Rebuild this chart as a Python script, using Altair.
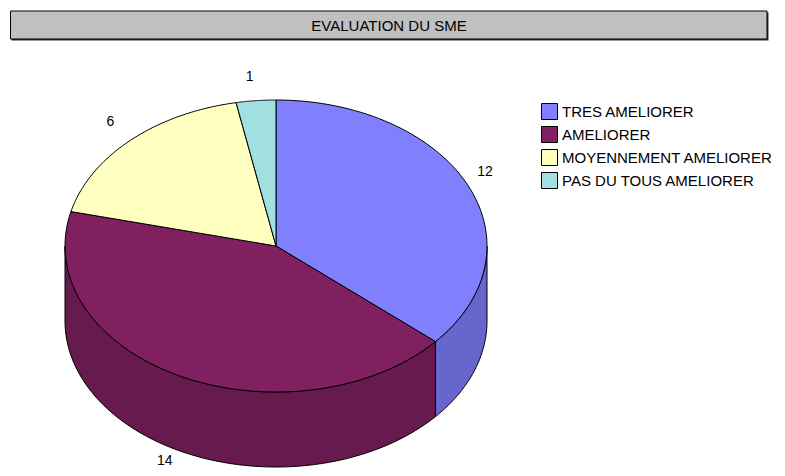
import altair as alt
import pandas as pd

categories = ["TRES AMELIORER", "AMELIORER", "MOYENNEMENT AMELIORER", "PAS DU TOUS AMELIORER"]
values = [12, 14, 6, 1]
top_colors = ["#8080FF", "#802060", "#FFFFC0", "#A0E0E0"]
side_colors = ["#6666CC", "#661A4D", "#CCCC9A", "#80B3B3"]
title_text = "EVALUATION DU SME"

FONT = "Liberation Sans, Arial, sans-serif"

df = pd.DataFrame({"cat": categories, "val": values,
                   "k": list(range(len(values))), "side": side_colors})

# layout of the 3-D pie (in page pixels)
CX, CY, RX, RY, DEPTH, N = 276, 246, 211, 146, 75, 72

xs = alt.Scale(domain=[8, 777])
ys = alt.Scale(domain=[8, 468], reverse=True)

base = (
    alt.Chart(df)
    .transform_joinaggregate(total="sum(val)")
    .transform_window(cum="sum(val)", sort=[alt.SortField("k")])
    .transform_calculate(a0="(datum.cum - datum.val) / datum.total * 2 * PI")
    .transform_calculate(a1="datum.cum / datum.total * 2 * PI")
)

# side walls (front half only)
side = (
    base.transform_calculate(s0="max(datum.a0, PI / 2)")
    .transform_calculate(s1="min(datum.a1, 3 * PI / 2)")
    .transform_filter("datum.s1 > datum.s0")
    .transform_calculate(i=f"sequence(0, {2 * N + 3})")
    .transform_flatten(["i"])
    .transform_calculate(
        t=f"datum.i <= {N} ? datum.i / {N} : (datum.i <= {2 * N + 1} ? 1 - (datum.i - {N + 1}) / {N} : 0)"
    )
    .transform_calculate(bot=f"(datum.i > {N} && datum.i <= {2 * N + 1}) ? 1 : 0")
    .transform_calculate(ang="datum.s0 + (datum.s1 - datum.s0) * datum.t")
    .transform_calculate(px=f"{CX} + {RX} * sin(datum.ang)")
    .transform_calculate(py=f"{CY} - {RY} * cos(datum.ang) + datum.bot * {DEPTH}")
    .mark_line(stroke="black", strokeWidth=1, strokeJoin="round")
    .encode(
        x=alt.X("px:Q", scale=xs, axis=None),
        y=alt.Y("py:Q", scale=ys, axis=None),
        order=alt.Order("i:Q"),
        detail="cat:N",
        fill=alt.Fill("side:N", scale=None),
    )
)

# top faces
top = (
    base.transform_calculate(i=f"sequence(0, {N + 3})")
    .transform_flatten(["i"])
    .transform_calculate(ang=f"datum.a0 + (datum.a1 - datum.a0) * (datum.i - 1) / {N}")
    .transform_calculate(
        px=f"(datum.i == 0 || datum.i == {N + 2}) ? {CX} : {CX} + {RX} * sin(datum.ang)"
    )
    .transform_calculate(
        py=f"(datum.i == 0 || datum.i == {N + 2}) ? {CY} : {CY} - {RY} * cos(datum.ang)"
    )
    .mark_line(stroke="black", strokeWidth=1, strokeJoin="round")
    .encode(
        x=alt.X("px:Q", scale=xs, axis=None),
        y=alt.Y("py:Q", scale=ys, axis=None),
        order=alt.Order("i:Q"),
        detail="cat:N",
        fill=alt.Fill(
            "cat:N",
            scale=alt.Scale(domain=categories, range=top_colors),
            legend=alt.Legend(
                title=None,
                orient="none",
                legendX=533,
                legendY=95,
                symbolType="square",
                symbolSize=256,
                symbolStrokeColor="black",
                symbolStrokeWidth=1,
                symbolOpacity=1,
                labelFont=FONT,
                labelFontSize=15,
                labelColor="black",
                labelOffset=4,
                labelLimit=300,
                rowPadding=2,
                padding=0,
            ),
        ),
    )
)

# value labels
labels = (
    base.transform_calculate(m="(datum.a0 + datum.a1) / 2")
    .transform_calculate(lx=f"{CX} + {RX} * 1.11 * sin(datum.m) - 4")
    .transform_calculate(
        ly=f"{CY} - {RY} * 1.13 * cos(datum.m) + (cos(datum.m) < 0 ? {DEPTH} - 7 : -5)"
    )
    .mark_text(font=FONT, fontSize=14, color="black")
    .encode(
        x=alt.X("lx:Q", scale=xs, axis=None),
        y=alt.Y("ly:Q", scale=ys, axis=None),
        text="val:Q",
    )
)

# title box
tdf = pd.DataFrame({"t": [title_text]})
shadow = alt.Chart(tdf).mark_rect(color="#333333").encode(
    x=alt.value(3.5), x2=alt.value(760.5), y=alt.value(4.5), y2=alt.value(32.5)
)
box = alt.Chart(tdf).mark_rect(fill="#C0C0C0", stroke="black", strokeWidth=1).encode(
    x=alt.value(2.5), x2=alt.value(759), y=alt.value(3), y2=alt.value(31)
)
ttext = alt.Chart(tdf).mark_text(font=FONT, fontSize=15, color="black", baseline="middle").encode(
    x=alt.value(381), y=alt.value(17.5), text="t:N"
)

chart = (
    alt.layer(shadow, box, ttext, side, top, labels)
    .properties(width=769, height=460, padding=0, autosize=alt.AutoSizeParams(type="none"),
                background="white")
    .configure_view(stroke=None)
)

chart.save("out.html", embed_options={"renderer": "svg", "actions": False})
